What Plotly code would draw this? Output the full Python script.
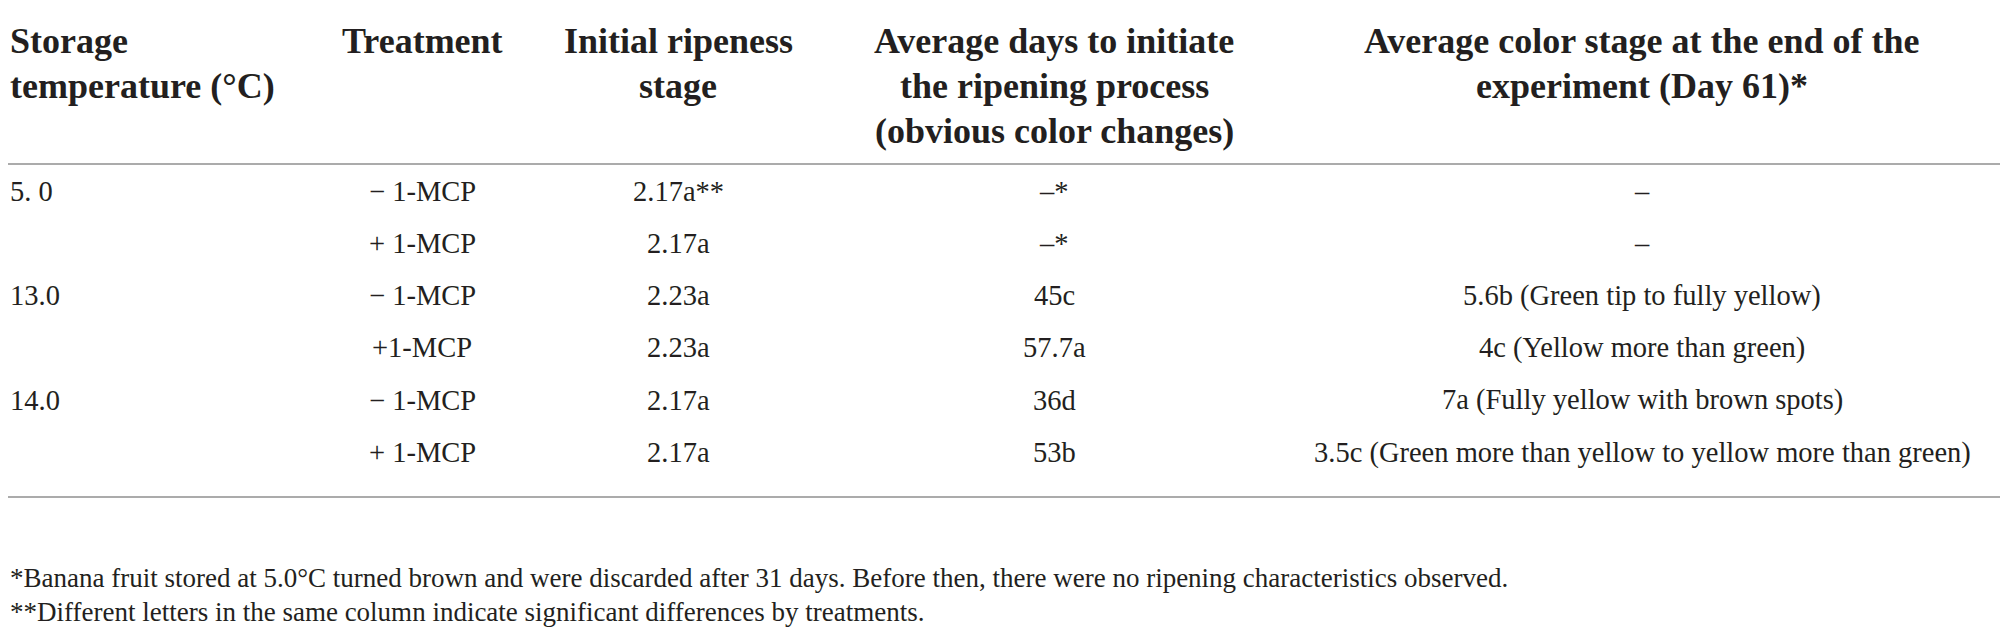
import plotly.graph_objects as go

# table content
header_lines = [
    ["Storage", "temperature (°C)"],
    ["Treatment"],
    ["Initial ripeness", "stage"],
    ["Average days to initiate", "the ripening process", "(obvious color changes)"],
    ["Average color stage at the end of the", "experiment (Day 61)*"],
]
temperatures = ["5. 0", "", "13.0", "", "14.0", ""]
treatments = ["\u2212 1-MCP", "+ 1-MCP", "\u2212 1-MCP", "+1-MCP", "\u2212 1-MCP", "+ 1-MCP"]
initial_stage = ["2.17a**", "2.17a", "2.23a", "2.23a", "2.17a", "2.17a"]
days_to_ripen = ["\u2013*", "\u2013*", "45c", "57.7a", "36d", "53b"]
final_color = [
    "\u2013",
    "\u2013",
    "5.6b (Green tip to fully yellow)",
    "4c (Yellow more than green)",
    "7a (Fully yellow with brown spots)",
    "3.5c (Green more than yellow to yellow more than green)",
]
footnotes = [
    "*Banana fruit stored at 5.0°C turned brown and were discarded after 31 days. "
    "Before then, there were no ripening characteristics observed.",
    "**Different letters in the same column indicate significant differences by treatments.",
]

W, H = 2008, 639
PAD = 8  # browser body margin, compensated so text lands where the window expects it
FONT = "Liberation Serif"
INK = "#231f20"
RULE = "#8f8f8f"

# layout (window pixels); left column sits on the figure's left edge
col_x = [PAD, 422, 678, 1054, 1642]
col_anchor = ["left", "center", "center", "center", "center"]
head_y0, head_dy = 41, 45
row_y0, row_dy = 191, 52.3
rule_y = [164, 497]
foot_y0, foot_dy = 578, 34

fig = go.Figure()
ann = []

for c, lines in enumerate(header_lines):
    for k, txt in enumerate(lines):
        ann.append(dict(x=col_x[c], y=head_y0 + k * head_dy, text="<b>%s</b>" % txt,
                        xanchor=col_anchor[c], yanchor="middle", showarrow=False,
                        font=dict(family=FONT, size=36, color=INK)))

columns = [temperatures, treatments, initial_stage, days_to_ripen, final_color]
for c, col in enumerate(columns):
    for r, txt in enumerate(col):
        if not txt:
            continue
        ann.append(dict(x=col_x[c], y=row_y0 + r * row_dy, text=txt,
                        xanchor=col_anchor[c], yanchor="middle", showarrow=False,
                        font=dict(family=FONT, size=28.5, color=INK)))

for k, txt in enumerate(footnotes):
    ann.append(dict(x=PAD, y=foot_y0 + k * foot_dy, text=txt, xanchor="left",
                    yanchor="middle", showarrow=False,
                    font=dict(family=FONT, size=27, color=INK)))

shapes = [dict(type="line", x0=PAD, x1=W, y0=y, y1=y, line=dict(color=RULE, width=1.5))
          for y in rule_y]

fig.update_layout(
    width=W - PAD, height=H - PAD,
    margin=dict(l=0, r=0, t=0, b=0),
    paper_bgcolor="white", plot_bgcolor="white",
    xaxis=dict(range=[PAD, W], visible=False, fixedrange=True),
    yaxis=dict(range=[H, PAD], visible=False, fixedrange=True),
    annotations=ann, shapes=shapes, showlegend=False,
)

fig.write_html("out.html")
